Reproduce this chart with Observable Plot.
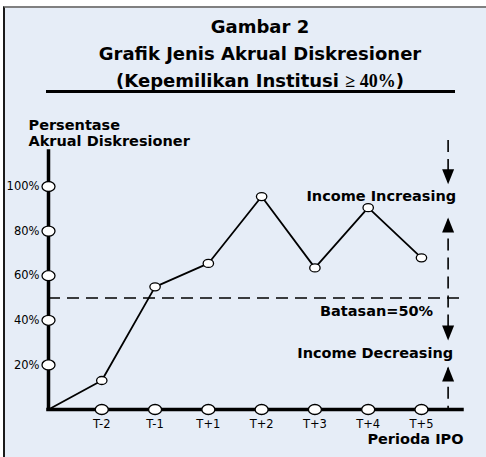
<!DOCTYPE html>
<html>
<head>
<meta charset="utf-8">
<script src="https://cdn.jsdelivr.net/npm/d3@7"></script>
<script src="https://cdn.jsdelivr.net/npm/@observablehq/plot@0.6"></script>
<style>
  html, body { margin: 0; padding: 0; background: #fff; }
  #wrap { position: relative; width: 486px; height: 457px; overflow: hidden; background: #fff; }
  #panel { position: absolute; left: 3px; top: 6px; right: 0; bottom: 0; background: #e6edf7;
           border-left: 2px solid #1a1a1a; border-top: 2px solid #808080; }
  #title { position: absolute; left: 20px; width: 480px; top: 13px; text-align: center;
           font-family: "DejaVu Sans", sans-serif; font-weight: bold; font-size: 18px; line-height: 27px; color: #000; }
  #title .serif { font-family: "Liberation Serif", serif; font-weight: bold; }
  #rule { position: absolute; left: 46px; width: 409px; top: 90px; height: 3px; background: #000; }
  #chart { position: absolute; left: 0; top: 95px; }
</style>
</head>
<body>
<div id="wrap">
  <div id="panel"></div>
  <div id="title">Gambar 2<br>Grafik Jenis Akrual Diskresioner<br>(Kepemilikan Institusi <span class="serif">≥ 40%</span>)</div>
  <div id="rule"></div>
  <div id="chart"></div>
</div>
<script>
// ---- data ----
const periods = ["T-2", "T-1", "T+1", "T+2", "T+3", "T+4", "T+5"];
const values = [13, 55, 65.5, 95.5, 63.5, 90.5, 68];
const yTicks = [20, 40, 60, 80, 100];
const threshold = 50;
const yLabel = "Persentase\nAkrual Diskresioner";
const xLabel = "Perioda IPO";
const upperLabel = "Income Increasing";
const lowerLabel = "Income Decreasing";
const thresholdLabel = "Batasan=50%";

// ---- derived tables ----
const points = periods.map((p, i) => ({period: p, i: i + 1, v: values[i]}));
const linePts = [{i: 0, v: 0}, ...points];
const xIdx = periods.map((p, i) => i + 1);
const guideX = periods.length + 0.5;

// custom symbols
const ellipse = {
  draw(ctx, size) {
    const r = Math.sqrt(size / Math.PI), rx = r * 1.3, ry = r, k = 0.5523;
    ctx.moveTo(rx, 0);
    ctx.bezierCurveTo(rx, ry * k, rx * k, ry, 0, ry);
    ctx.bezierCurveTo(-rx * k, ry, -rx, ry * k, -rx, 0);
    ctx.bezierCurveTo(-rx, -ry * k, -rx * k, -ry, 0, -ry);
    ctx.bezierCurveTo(rx * k, -ry, rx, -ry * k, rx, 0);
    ctx.closePath();
  }
};
const arrowHead = {
  draw(ctx, size) {
    ctx.moveTo(0, 0); ctx.lineTo(-6, -15); ctx.lineTo(6, -15); ctx.closePath();
  }
};

const bold = {fontWeight: "bold", fontSize: 14.5, fontFamily: "DejaVu Sans", fill: "#000"};
const dash = {stroke: "#000", strokeWidth: 1.6, strokeDasharray: "12,7"};

const chart = Plot.plot({
  width: 486,
  height: 362,
  marginLeft: 48,
  marginRight: 24,
  marginTop: 56,
  marginBottom: 48,
  x: {domain: [0, 7.77]},
  y: {domain: [0, 115.7]},
  style: {fontFamily: "DejaVu Sans", fontSize: "11.5px", color: "#000", background: "transparent", overflow: "visible"},
  marks: [
    // threshold line
    Plot.ruleY([threshold], {x1: 0, x2: 7.77, ...dash}),
    // right guide with arrows
    Plot.ruleX([guideX], {y1: 120.6, y2: 102, ...dash}),
    Plot.ruleX([guideX], {y1: 85, y2: 32, ...dash}),
    Plot.ruleX([guideX], {y1: 18.5, y2: 0, ...dash}),
    Plot.dot([101, threshold - 19.1], {x: () => guideX, y: d => d, symbol: arrowHead, r: 5, fill: "#000", stroke: "none"}),
    Plot.dot([86.1, 19.3], {x: () => guideX, y: d => d, symbol: arrowHead, r: 5, rotate: 180, fill: "#000", stroke: "none"}),
    // data line
    Plot.line(linePts, {x: "i", y: "v", stroke: "#000", strokeWidth: 1.8}),
    // axes
    Plot.ruleX([0], {y1: 0, y2: 115.7, stroke: "#000", strokeWidth: 3.5, strokeLinecap: "square"}),
    Plot.ruleY([0], {x1: 0, x2: 7.77, stroke: "#000", strokeWidth: 3.5, strokeLinecap: "square"}),
    Plot.dot(yTicks, {x: () => 0, y: d => d, symbol: ellipse, r: 5, fill: "#fff", stroke: "#000", strokeWidth: 1.3}),
    Plot.dot(xIdx, {x: d => d, y: () => 0, symbol: ellipse, r: 5, fill: "#fff", stroke: "#000", strokeWidth: 1.3}),
    Plot.dot(points, {x: "i", y: "v", symbol: ellipse, r: 4, fill: "#fff", stroke: "#000", strokeWidth: 1.3}),
    Plot.axisY({ticks: yTicks, tickFormat: d => d + "%", tickSize: 0, tickPadding: 9, label: null}),
    Plot.axisX({ticks: xIdx, tickFormat: i => periods[i - 1], tickSize: 0, tickPadding: 10, label: null}),
    // labels
    Plot.text([yLabel], {x: () => 0, y: () => 118, text: d => d, dx: -20, textAnchor: "start", lineAnchor: "bottom", lineHeight: 1.1, ...bold}),
    Plot.text([upperLabel], {x: () => guideX, y: () => 93.7, text: d => d, dx: 8, textAnchor: "end", lineAnchor: "bottom", ...bold}),
    Plot.text([thresholdLabel], {x: () => guideX, y: () => threshold, text: d => d, dx: -15, dy: 17.5, textAnchor: "end", lineAnchor: "bottom", ...bold}),
    Plot.text([lowerLabel], {x: () => guideX, y: () => 22.9, text: d => d, dx: 5, textAnchor: "end", lineAnchor: "bottom", ...bold}),
    Plot.text([xLabel], {x: () => 7.77, y: () => 0, text: d => d, dx: 1, dy: 34, textAnchor: "end", lineAnchor: "bottom", ...bold})
  ]
});
document.getElementById("chart").appendChild(chart);
</script>
</body>
</html>
